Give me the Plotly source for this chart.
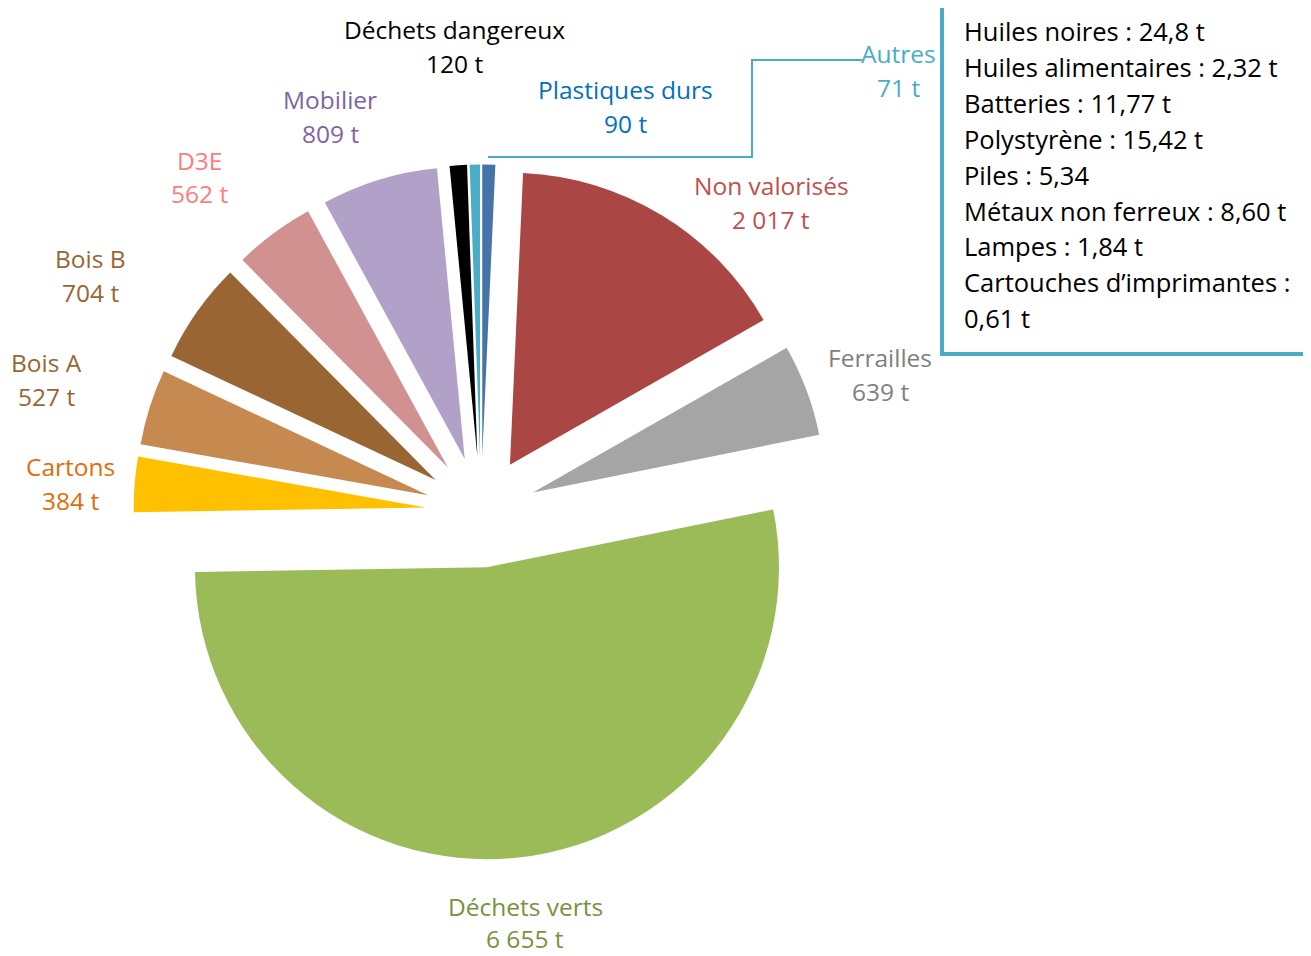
import plotly.graph_objects as go

W, H = 1311, 956
OFF = 8  # default page margin around the plot div
FW, FH = W - OFF, H - OFF

# ---- data ----
categories = ["Plastiques durs", "Non valorisés", "Ferrailles", "Déchets verts", "Cartons",
              "Bois A", "Bois B", "D3E", "Mobilier", "Déchets dangereux", "Autres"]
values = [90, 2017, 639, 6655, 384, 527, 704, 562, 809, 120, 71]
value_labels = ["90 t", "2 017 t", "639 t", "6 655 t", "384 t", "527 t", "704 t",
                "562 t", "809 t", "120 t", "71 t"]
slice_colors = ["#4674AA", "#AA4744", "#A5A5A5", "#9BBB59", "#FFC000", "#C68A50",
                "#996633", "#D19190", "#B1A0C7", "#000000", "#4BACC6"]
label_colors = ["#0070C0", "#C0504D", "#7F7F7F", "#77933C", "#E36C09", "#996633",
                "#996633", "#FF7C80", "#8064A2", "#000000", "#4BACC6"]
# label centre positions in page pixels (x, y of first line, line gap)
label_pos = [(625, 89, 34), (771, 185, 34), (880, 357, 34), (525, 906, 32), (70, 466, 34),
             (46, 362, 34), (90, 258, 34), (199, 160, 34), (330, 99, 34), (454, 29, 34),
             (898, 54, 34)]

box_lines = ["Huiles noires : 24,8 t", "Huiles alimentaires : 2,32 t", "Batteries : 11,77 t",
             "Polystyrène : 15,42 t", "Piles : 5,34", "Métaux non ferreux : 8,60 t",
             "Lampes : 1,84 t", "Cartouches d’imprimantes :", "0,61 t"]

FONT = "Open Sans"
FS = 24.5
FS_BOX = 25.5


def px(x):
    return (x - OFF) / FW


def py(y):
    return 1 - (y - OFF) / FH


# pie geometry (page pixels)
cx, cy, half = 481, 512, 347.5

fig = go.Figure(go.Pie(
    labels=categories,
    values=values,
    sort=False,
    direction="clockwise",
    rotation=0,
    pull=[0.19] * len(values),
    marker=dict(colors=slice_colors, line=dict(width=0)),
    textinfo="none",
    hoverinfo="label+value",
    showlegend=False,
    domain=dict(x=[px(cx - half), px(cx + half)], y=[py(cy + half), py(cy - half)]),
))

annotations = []
for name, vl, col, (x, y, gap) in zip(categories, value_labels, label_colors, label_pos):
    for i, t in enumerate([name, vl]):
        annotations.append(dict(
            x=px(x), y=py(y + i * gap), xref="paper", yref="paper",
            text=t, showarrow=False, xanchor="center", yanchor="middle",
            font=dict(family=FONT, size=FS, color=col)))

for i, t in enumerate(box_lines):
    annotations.append(dict(
        x=px(962), y=py(31 + i * 35.9), xref="paper", yref="paper",
        text=t, showarrow=False, xanchor="left", yanchor="middle",
        font=dict(family=FONT, size=FS_BOX, color="#000000")))

shapes = [
    dict(type="rect", xref="paper", yref="paper", x0=px(942), x1=px(1330), y0=py(354), y1=py(-4),
         line=dict(color="#4BACC6", width=4), fillcolor="rgba(0,0,0,0)"),
    dict(type="path", xref="paper", yref="paper",
         path=f"M {px(862)},{py(60)} L {px(752)},{py(60)} L {px(752)},{py(157)} L {px(488)},{py(157)}",
         line=dict(color="#4BACC6", width=2)),
]

fig.update_layout(
    width=FW, height=FH,
    margin=dict(l=0, r=0, t=0, b=0),
    paper_bgcolor="white", plot_bgcolor="white",
    annotations=annotations, shapes=shapes,
)

fig.write_html("out.html")
